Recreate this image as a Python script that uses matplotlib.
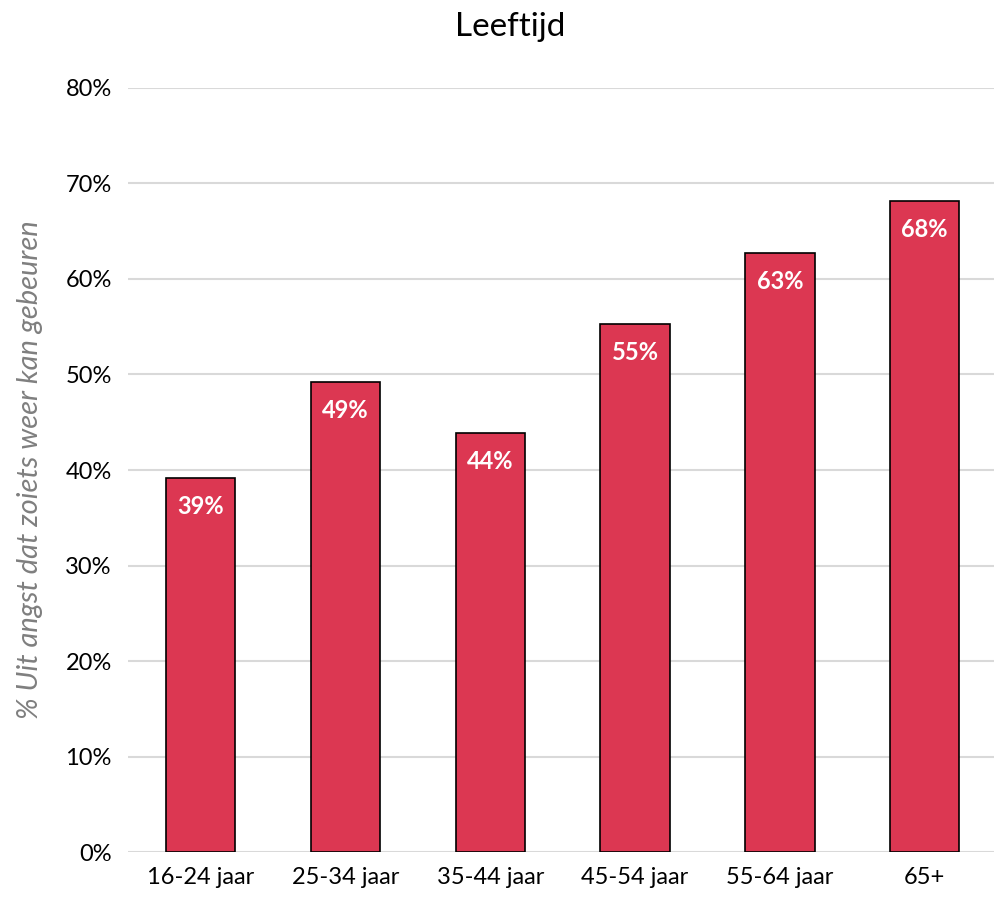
import matplotlib.pyplot as plt
import numpy as np

categories = ["16-24 jaar", "25-34 jaar", "35-44 jaar", "45-54 jaar", "55-64 jaar", "65+"]
values = [39.2, 49.2, 43.9, 55.3, 62.7, 68.2]
labels = ["39%", "49%", "44%", "55%", "63%", "68%"]
yticks = [0, 10, 20, 30, 40, 50, 60, 70, 80]

plt.rcParams['font.family'] = ['Lato', 'DejaVu Sans']

fig = plt.figure(figsize=(9.95, 8.97), dpi=100)
ax = fig.add_axes([0.129, 0.050, 0.873, 0.852])

x = np.arange(len(categories))
ax.bar(x, values, width=0.48, color="#DC3752", edgecolor="black", linewidth=1.2, zorder=3)

for xi, v, lab in zip(x, values, labels):
    ax.text(xi, v - 3.0, lab, ha="center", va="center", color="white",
            fontsize=17, fontweight="bold", zorder=4)

ax.set_xlim(-0.5, len(categories) - 0.5)
ax.set_ylim(0, 80)
ax.set_yticks(yticks)
ax.set_yticklabels([f"{t}%" for t in yticks], fontsize=17)
ax.set_xticks(x)
ax.set_xticklabels(categories, fontsize=17)
ax.tick_params(axis="y", length=0, pad=12)
ax.tick_params(axis="x", length=0, pad=11)
ax.yaxis.grid(True, color="#d9d9d9", linewidth=1.5, zorder=0)
for s in ax.spines.values():
    s.set_visible(False)

ax.set_ylabel("% Uit angst dat zoiets weer kan gebeuren", fontsize=21,
              style="italic", color="#7f7f7f", labelpad=16)
fig.text(0.513, 0.97, "Leeftijd", ha="center", va="center", fontsize=24)

fig.savefig("out.png", dpi=100)
